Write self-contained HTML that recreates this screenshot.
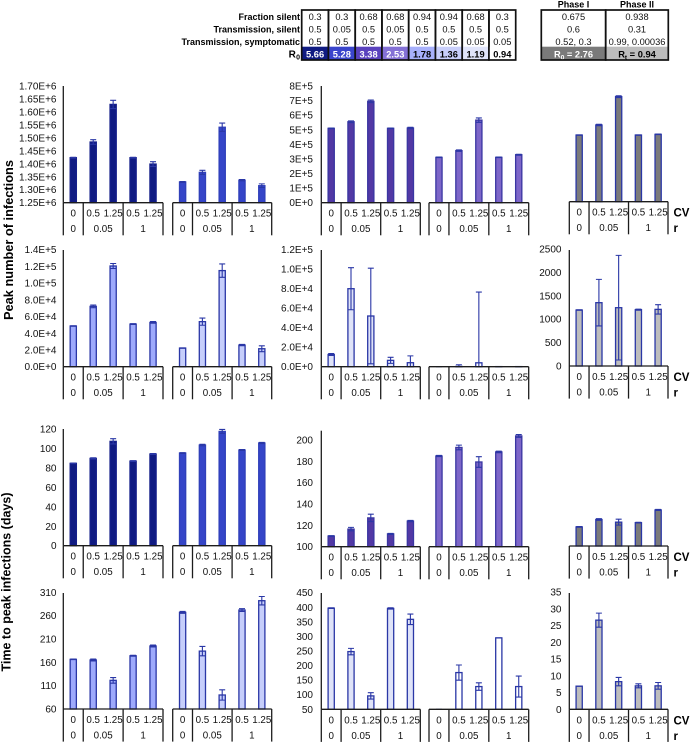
<!DOCTYPE html>
<html lang="en">
<head>
<meta charset="utf-8">
<title>Peak number of infections and time to peak infections</title>
<style>
html,body{margin:0;padding:0;background:#fff;width:690px;height:749px;overflow:hidden}
svg{display:block;font-family:"Liberation Sans",sans-serif;filter:blur(0.25px)}
</style>
</head>
<body>
<svg id="chart" width="690" height="749" viewBox="0 0 690 749" xmlns="http://www.w3.org/2000/svg"></svg>
<script>
// ---- header table data ----
const rowLabels = ['Fraction silent', 'Transmission, silent', 'Transmission, symptomatic'];
const fractionSilent = ['0.3', '0.3', '0.68', '0.68', '0.94', '0.94', '0.68', '0.3'];
const transmissionSilent = ['0.5', '0.05', '0.5', '0.05', '0.5', '0.5', '0.5', '0.5'];
const transmissionSymptomatic = ['0.5', '0.5', '0.5', '0.5', '0.5', '0.05', '0.05', '0.05'];
const r0Values = ['5.66', '5.28', '3.38', '2.53', '1.78', '1.36', '1.19', '0.94'];
const r0Fills = ['#101b82', '#3a45cc', '#5a42be', '#8471d6', '#a7b0fb', '#c8cefb', '#e0e4fa', '#ffffff'];
const r0Text = ['#fff', '#fff', '#fff', '#fff', '#000', '#000', '#000', '#000'];
const phaseHeaders = ['Phase I', 'Phase II'];
const phaseFraction = ['0.675', '0.938'];
const phaseSilent = ['0.6', '0.31'];
const phaseSymptomatic = ['0.52, 0.3', '0.99, 0.00036'];

// ---- categories ----
const cvLabels = ['0', '0.5', '1.25', '0.5', '1.25'];
const rGroups = ['0', '0.05', '1'];

// ---- tick labels ----
const ticksPeakHigh = ['1.25E+6', '1.30E+6', '1.35E+6', '1.40E+6', '1.45E+6', '1.50E+6', '1.55E+6', '1.60E+6', '1.65E+6', '1.70E+6'];
const ticksPeakMid = ['0E+0', '1E+5', '2E+5', '3E+5', '4E+5', '5E+5', '6E+5', '7E+5', '8E+5'];
const ticksPeakLow = ['0.0E+0', '2.0E+4', '4.0E+4', '6.0E+4', '8.0E+4', '1.0E+5', '1.2E+5', '1.4E+5'];
const ticksPeakVeryLow = ['0.0E+0', '2.0E+4', '4.0E+4', '6.0E+4', '8.0E+4', '1.0E+5', '1.2E+5'];
const ticksPeakCount = ['0', '500', '1000', '1500', '2000', '2500'];
const ticksTimeHigh = ['0', '20', '40', '60', '80', '100', '120'];
const ticksTimeMid = ['100', '120', '140', '160', '180', '200'];
const ticksTimeLow = ['60', '110', '160', '210', '260', '310'];
const ticksTimeVeryLow = ['50', '100', '150', '200', '250', '300', '350', '400', '450'];
const ticksTimeShort = ['0', '5', '10', '15', '20', '25', '30', '35'];

// ---- series: peak number of infections ----
const peak1a = [1423600, 1484000, 1629000, 1423600, 1399000];
const peak1aErr = [1500, 9000, 16000, 1500, 9000];
const peak1b = [1330000, 1367000, 1541000, 1337000, 1315600];
const peak1bErr = [1500, 8000, 16000, 2500, 7000];
const peak2a = [510000, 555000, 695000, 510000, 512000];
const peak2aErr = [2000, 6000, 9000, 2000, 5000];
const peak2b = [311000, 357000, 566000, 311000, 329000];
const peak2bErr = [2000, 5000, 15000, 2000, 3000];
const peak3 = [457000, 526000, 720000, 457000, 462000];
const peak3Err = [1000, 5000, 6000, 1000, 2000];
const peak4a = [48700, 72200, 120500, 51000, 53000];
const peak4aErr = [300, 1600, 3000, 500, 1000];
const peak4b = [22300, 53900, 115000, 25900, 21500];
const peak4bErr = [200, 4300, 8000, 700, 3500];
const peak5a = [12500, 80000, 52000, 6500, 4100];
const peak5aErr = [1000, 21600, 49000, 3100, 7000];
const peak5b = [0, 300, 4000, 100, 100];
const peak5bErr = [0, 1700, 72600, 100, 100];
const peak6 = [1196, 1353, 1246, 1203, 1210];
const peak6Err = [5, 498, 1118, 10, 100];

// ---- series: time to peak infections ----
const time1a = [84.7, 89.8, 107.3, 87, 94.3];
const time1aErr = [0.3, 0.6, 2.7, 0.4, 0.5];
const time1b = [95.3, 103.5, 117.5, 98.4, 105.6];
const time1bErr = [0.4, 0.8, 2, 0.5, 0.6];
const time2a = [110, 116.5, 127, 112, 124];
const time2aErr = [0.3, 1.6, 3.5, 0.5, 0.6];
const time2b = [185, 193, 179.4, 188.8, 203.8];
const time2bErr = [0.5, 2.2, 5, 0.7, 1.3];
const time3 = [118, 125, 122.5, 122, 134];
const time3Err = [0.3, 0.8, 2.8, 0.3, 0.5];
const time4a = [166.4, 165, 121.4, 174, 195];
const time4aErr = [0.6, 2, 6, 1, 2];
const time4b = [267, 184, 90, 272, 292];
const time4bErr = [2, 10, 11, 3, 9];
const time5a = [397, 248, 96, 396, 358.6];
const time5aErr = [1, 11, 11, 2, 18];
const time5b = [50, 176, 128, 295, 128];
const time5bErr = [0, 26, 13, 0, 36];
const time6 = [6.9, 26.6, 8.25, 7, 7];
const time6Err = [0, 2.1, 1.25, 0.6, 1];

// ---- layout ----
const svg = document.getElementById('chart');
const NS = 'http://www.w3.org/2000/svg';
const INK = '#1c1c1c';
const BLUE = '#2a37a6';
const NAVY_EDGE = '#151f8a';
const ROYAL_EDGE = '#3040ba';
const PURPLE_EDGE = '#3a36a2';
const LEFTS = [[63.3, 163], [172.7, 271.7], [321.3, 420.3], [429, 528.7], [569.3, 668]];
const TICK_RIGHT = [56.5, 56.5, 313, 313, 561.5];

function add(tag, attrs, text) {
  const node = document.createElementNS(NS, tag);
  for (const k in attrs) node.setAttribute(k, attrs[k]);
  if (text !== undefined) node.textContent = text;
  svg.appendChild(node);
  return node;
}

function makeScale(ticks, yTop, yBase) {
  const lo = Number(ticks[0]);
  const hi = Number(ticks[ticks.length - 1]);
  return function (v) {
    return yBase - (v - lo) / (hi - lo) * (yBase - yTop);
  };
}

function drawAxis(ticks, column, yTop, yBase, axisTop) {
  const scale = makeScale(ticks, yTop, yBase);
  const axis = add('line', { x1: LEFTS[column][0], x2: LEFTS[column][0], y1: axisTop, y2: yBase, stroke: INK, 'stroke-width': 1.3 });
  
  
  ticks.forEach(function (t) {
    const label = add('text', { x: TICK_RIGHT[column], y: scale(Number(t)) + 3.5, 'font-size': 10, 'text-anchor': 'end', fill: '#111' }, t);
    
    
  });
}

function drawPanel(values, errors, ticks, column, yTop, yBase, fill, edge) {
  const scale = makeScale(ticks, yTop, yBase);
  const left = LEFTS[column][0];
  const right = LEFTS[column][1];
  const step = (right - left) / values.length;
  const base = Number(ticks[0]);
  const line = edge || BLUE;
  values.forEach(function (v, i) {
    const cx = left + (i + 0.5) * step;
    const top = scale(v);
    const bar = add('rect', { x: cx - 3.1, y: top, width: 6.2, height: Math.max(0, yBase - top), fill: fill, stroke: line, 'stroke-width': 1.3 });
    
    
    const hi = scale(v + errors[i]);
    const lo = scale(Math.max(base, v - errors[i]));
    const d = 'M' + cx + ' ' + hi + 'V' + lo + 'M' + (cx - 3) + ' ' + hi + 'H' + (cx + 3) + 'M' + (cx - 3) + ' ' + lo + 'H' + (cx + 3);
    const err = add('path', { d: d, fill: 'none', stroke: BLUE, 'stroke-width': 1.1 });
    
    
  });
  // category table beneath the bars
  const baseLine = add('line', { x1: left, x2: right, y1: yBase, y2: yBase, stroke: INK, 'stroke-width': 1.3 });
  
  
  [0, 1, 3, 5].forEach(function (k) {
    const x = left + k * step;
    const div = add('line', { x1: x, x2: x, y1: yBase, y2: yBase + 32.6, stroke: INK, 'stroke-width': 1.3 });
    
    
  });
  cvLabels.forEach(function (c, i) {
    const label = add('text', { x: left + (i + 0.5) * step, y: yBase + 14, 'font-size': 9.8, 'text-anchor': 'middle', fill: '#111' }, c);
    
    
  });
  const groupCentres = [0.5, 2, 4];
  rGroups.forEach(function (g, i) {
    const label = add('text', { x: left + groupCentres[i] * step, y: yBase + 29.5, 'font-size': 9.8, 'text-anchor': 'middle', fill: '#111' }, g);
    
    
  });
}

function drawRowTitles(yBase) {
  const cv = add('text', { x: 673.5, y: yBase + 15, 'font-size': 11.5, 'font-weight': 'bold', fill: '#000' }, 'CV');
  
  
  const r = add('text', { x: 673.5, y: yBase + 30.5, 'font-size': 11.5, 'font-weight': 'bold', fill: '#000' }, 'r');
  
  
}

// ---- row 1 ----
drawAxis(ticksPeakHigh, 0, 86, 202.7, 86);
drawPanel(peak1a, peak1aErr, ticksPeakHigh, 0, 86, 202.7, '#101b82', NAVY_EDGE);
drawPanel(peak1b, peak1bErr, ticksPeakHigh, 1, 86, 202.7, '#3545c8', ROYAL_EDGE);
drawAxis(ticksPeakMid, 2, 86, 202.7, 86);
drawPanel(peak2a, peak2aErr, ticksPeakMid, 2, 86, 202.7, '#5238a4', PURPLE_EDGE);
drawPanel(peak2b, peak2bErr, ticksPeakMid, 3, 86, 202.7, '#7d66c8', PURPLE_EDGE);
drawPanel(peak3, peak3Err, ticksPeakMid, 4, 85, 201.7, '#7a7a7a');
drawRowTitles(201.7);

// ---- row 2 ----
drawAxis(ticksPeakLow, 0, 249.7, 366.7, 250);
drawPanel(peak4a, peak4aErr, ticksPeakLow, 0, 249.7, 366.7, '#9eaafc');
drawPanel(peak4b, peak4bErr, ticksPeakLow, 1, 249.7, 366.7, '#c6cefb');
drawAxis(ticksPeakVeryLow, 2, 249.7, 366.7, 250);
drawPanel(peak5a, peak5aErr, ticksPeakVeryLow, 2, 249.7, 366.7, '#dfe3f8');
drawPanel(peak5b, peak5bErr, ticksPeakVeryLow, 3, 249.7, 366.7, '#ffffff');
drawAxis(ticksPeakCount, 4, 249, 366, 250);
drawPanel(peak6, peak6Err, ticksPeakCount, 4, 249, 366, '#bdbdbd');
drawRowTitles(366);

// ---- row 3 ----
drawAxis(ticksTimeHigh, 0, 429, 545.7, 429);
drawPanel(time1a, time1aErr, ticksTimeHigh, 0, 429, 545.7, '#101b82', NAVY_EDGE);
drawPanel(time1b, time1bErr, ticksTimeHigh, 1, 429, 545.7, '#3545c8', ROYAL_EDGE);
drawAxis(ticksTimeMid, 2, 440, 546.7, 430.7);
drawPanel(time2a, time2aErr, ticksTimeMid, 2, 440, 546.7, '#5238a4', PURPLE_EDGE);
drawPanel(time2b, time2bErr, ticksTimeMid, 3, 440, 546.7, '#7d66c8', PURPLE_EDGE);
drawPanel(time3, time3Err, ticksTimeMid, 4, 440, 546, '#7a7a7a');
drawRowTitles(546);

// ---- row 4 ----
drawAxis(ticksTimeLow, 0, 592.3, 709, 593);
drawPanel(time4a, time4aErr, ticksTimeLow, 0, 592.3, 709, '#9eaafc');
drawPanel(time4b, time4bErr, ticksTimeLow, 1, 592.3, 709, '#c6cefb');
drawAxis(ticksTimeVeryLow, 2, 592.7, 709.3, 593);
drawPanel(time5a, time5aErr, ticksTimeVeryLow, 2, 592.7, 709.3, '#dfe3f8');
drawPanel(time5b, time5bErr, ticksTimeVeryLow, 3, 592.7, 709.3, '#ffffff');
drawAxis(ticksTimeShort, 4, 592, 709.3, 593);
drawPanel(time6, time6Err, ticksTimeShort, 4, 592, 709.3, '#bdbdbd');
drawRowTitles(709.3);

// ---- y axis titles ----
const peakTitle = add('text', { transform: 'translate(13,240) rotate(-90)', 'font-size': 12.8, 'font-weight': 'bold', 'text-anchor': 'middle', fill: '#000' }, 'Peak number of infections');


const timeTitle = add('text', { transform: 'translate(10.5,582) rotate(-90)', 'font-size': 12.5, 'font-weight': 'bold', 'text-anchor': 'middle', fill: '#000' }, 'Time to peak infections (days)');



// ---- header table: scenarios ----
const TABLE_X = 301.7;
const CELL_W = 26.75;
const ROW_Y = [20, 32.5, 45, 57.5];
const rowArrays = [fractionSilent, transmissionSilent, transmissionSymptomatic];

rowLabels.forEach(function (t, i) {
  const label = add('text', { x: 300, y: ROW_Y[i], 'font-size': 9, 'font-weight': 'bold', 'text-anchor': 'end', fill: '#000' }, t);
  
  
});
const r0Label = add('text', { x: 295.8, y: ROW_Y[3], 'font-size': 10, 'font-weight': 'bold', 'text-anchor': 'end', fill: '#000' }, 'R');


const r0Sub = add('text', { x: 300, y: ROW_Y[3] + 2, 'font-size': 7, 'font-weight': 'bold', 'text-anchor': 'end', fill: '#000' }, '0');



r0Values.forEach(function (v, i) {
  const cx = TABLE_X + (i + 0.5) * CELL_W;
  const bg = add('rect', { x: TABLE_X + i * CELL_W, y: 46.7, width: CELL_W, height: 13.3, fill: r0Fills[i] });
  
  
  rowArrays.forEach(function (arr, r) {
    const cell = add('text', { x: cx, y: ROW_Y[r], 'font-size': 9.3, 'text-anchor': 'middle', fill: '#111' }, arr[i]);
    
    
  });
  const val = add('text', { x: cx, y: ROW_Y[3], 'font-size': 9.3, 'font-weight': 'bold', 'text-anchor': 'middle', fill: r0Text[i] }, v);
  
  
  const box = add('rect', { x: TABLE_X + i * CELL_W, y: 10, width: CELL_W, height: 50, fill: 'none', stroke: '#111', 'stroke-width': 1.7 });
  
  
});

// ---- header table: phases ----
const PHASE_X = [541.3, 605.7];
const PHASE_W = [64.4, 62.6];
const phaseRows = [phaseFraction, phaseSilent, phaseSymptomatic];
const phaseBg = ['#7a7a7a', '#bdbdbd'];
const phaseResult = [['R', '0', ' = 2.76'], ['R', 't', ' = 0.94']];
const phaseResultFill = ['#fff', '#000'];

phaseHeaders.forEach(function (h, i) {
  const cx = PHASE_X[i] + PHASE_W[i] / 2;
  const head = add('text', { x: cx, y: 7.5, 'font-size': 9, 'font-weight': 'bold', 'text-anchor': 'middle', fill: '#000' }, h);
  
  
  const bg = add('rect', { x: PHASE_X[i], y: 46.7, width: PHASE_W[i], height: 13.3, fill: phaseBg[i] });
  
  
  phaseRows.forEach(function (arr, r) {
    const cell = add('text', { x: cx, y: ROW_Y[r], 'font-size': 9.3, 'text-anchor': 'middle', fill: '#111' }, arr[i]);
    
    
  });
  const res = add('text', { x: cx, y: ROW_Y[3], 'font-size': 9.3, 'font-weight': 'bold', 'text-anchor': 'middle', fill: phaseResultFill[i] });
  
  
  const a = document.createElementNS(NS, 'tspan');
  a.textContent = phaseResult[i][0];
  res.appendChild(a);
  const b = document.createElementNS(NS, 'tspan');
  b.setAttribute('font-size', '6.5');
  b.setAttribute('dy', '2');
  b.textContent = phaseResult[i][1];
  res.appendChild(b);
  const c = document.createElementNS(NS, 'tspan');
  c.setAttribute('dy', '-2');
  c.textContent = phaseResult[i][2];
  res.appendChild(c);
  const box = add('rect', { x: PHASE_X[i], y: 10, width: PHASE_W[i], height: 50, fill: 'none', stroke: '#111', 'stroke-width': 1.7 });
  
  
});
</script>
</body>
</html>
